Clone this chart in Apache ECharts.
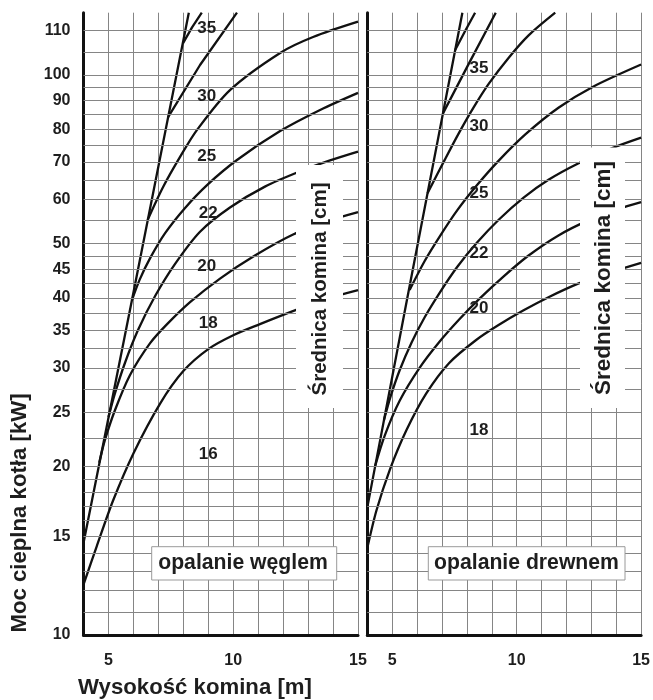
<!DOCTYPE html>
<html>
<head>
<meta charset="utf-8">
<script src="https://cdn.jsdelivr.net/npm/echarts@6/dist/echarts.min.js"></script>
<style>
html,body{margin:0;padding:0;background:#fff}
#chart{width:653px;height:700px}
</style>
</head>
<body>
<div id="chart"></div>
<script>
// ---------- axes / ticks ----------
const xTickLabels = [5, 10, 15];
const yGridValues = [11, 12, 13, 14, 15, 16, 17, 18, 19, 20, 22.5, 25, 27.5, 30, 32.5, 35, 37.5, 40, 42.5, 45, 47.5, 50,
  55, 60, 65, 70, 75, 80, 85, 90, 95, 100, 110, 120];
const yTickValues = [10, 15, 20, 25, 30, 35, 40, 45, 50, 60, 70, 80, 90, 100, 120];
const yTickLabels = ['10', '15', '20', '25', '30', '35', '40', '45', '50', '60', '70', '80', '90', '100', '110'];

// ---------- coal panel (opalanie węglem): [height m, power kW] ----------
const coalLimit = [[4.0, 14.6], [5.94, 39.6], [8.22, 129.2]];
const coal35 = [[7.99, 114.0], [8.35, 121.6], [8.74, 129.2]];
const coal30 = [[7.39, 84.1], [8.67, 104.2], [10.15, 129.2]];
const coal25 = [[6.57, 55.1], [7.19, 63.1], [7.87, 71.4], [8.55, 79.8], [9.87, 94.0], [11.88, 109.5], [13.2, 116.9], [15, 124.5]];
const coal22 = [[5.94, 39.6], [6.26, 43.2], [6.67, 47.1], [7.27, 52.2], [8.07, 57.9], [8.95, 63.6], [10.15, 70.5], [11.88, 79.4], [13.48, 86.6], [15, 92.9]];
const coal20 = [[5.0, 24.5], [5.26, 27.0], [5.66, 30.6], [6.18, 35.0], [6.87, 40.3], [7.67, 46.0], [8.67, 52.5], [9.87, 58.0], [11.27, 63.2], [12.68, 67.3], [13.88, 70.4], [15, 73.0]];
const coal18 = [[4.63, 20.3], [4.86, 22.3], [5.26, 25.2], [5.86, 29.1], [6.67, 33.2], [7.35, 35.9], [8.27, 39.3], [9.47, 43.3], [10.87, 47.6], [12.4, 51.9], [13.88, 55.0], [15, 56.9]];
const coal16 = [[4.0, 12.3], [4.53, 14.4], [5.19, 17.4], [6.0, 21.1], [7.07, 25.9], [8.0, 29.6], [9.0, 32.4], [10.0, 34.3], [11.07, 35.9], [12.55, 38.1], [13.88, 40.0], [15, 41.3]];
const coalLabelText = ['35', '30', '25', '22', '20', '18', '16'];
const coalLabelX = [8.94, 8.94, 8.94, 9.0, 8.94, 9.0, 9.0];
const coalLabelY = [121.2, 91.5, 71.5, 56.6, 45.5, 36.0, 21.0];

// ---------- wood panel (opalanie drewnem) ----------
const woodLimit = [[4.0, 16.9], [5.59, 39.6], [7.82, 129.2]];
const wood40 = [[7.53, 110.8], [7.93, 119.8], [8.33, 129.2]];
const wood35 = [[7.04, 85.4], [8.09, 105.0], [9.16, 129.2]];
const wood30 = [[6.42, 61.5], [7.10, 70.4], [7.69, 78.9], [8.29, 87.8], [8.89, 96.6], [9.69, 107.5], [10.48, 117.7], [11.55, 129.2]];
const wood25 = [[5.70, 41.3], [6.30, 46.5], [6.90, 51.4], [7.61, 57.3], [8.41, 63.6], [9.29, 70.4], [10.36, 78.4], [11.68, 87.4], [13.07, 95.3], [15, 104.4]];
const wood22 = [[4.67, 24.2], [4.94, 26.7], [5.30, 29.7], [5.78, 33.3], [6.30, 36.9], [6.90, 40.8], [7.61, 45.4], [8.41, 50.2], [9.29, 55.2], [10.28, 60.4], [11.28, 65.0], [12.47, 69.5], [13.79, 73.9], [15, 77.3]];
const wood20 = [[4.31, 20.0], [4.70, 22.7], [5.30, 26.2], [6.10, 30.0], [6.90, 33.4], [7.69, 36.6], [8.49, 39.8], [9.48, 43.7], [10.48, 47.6], [11.68, 51.7], [12.88, 55.0], [14.07, 57.6], [15, 59.3]];
const wood18 = [[4.0, 14.3], [4.37, 16.7], [4.90, 19.7], [5.57, 23.2], [6.37, 27.0], [7.29, 30.6], [8.36, 33.6], [9.29, 35.8], [10.28, 38.0], [11.28, 40.1], [12.47, 42.4], [13.67, 44.3], [15, 46.2]];
const woodLabelText = ['35', '30', '25', '22', '20', '18'];
const woodLabelX = [8.49, 8.49, 8.49, 8.49, 8.49, 8.49];
const woodLabelY = [102.8, 80.9, 61.5, 48.0, 38.3, 23.2];

// ---------- texts ----------
const yTitle = 'Moc cieplna kotła [kW]';
const xTitle = 'Wysokość komina [m]';
const diamTitle = 'Średnica komina [cm]';
const coalTitle = 'opalanie węglem';
const woodTitle = 'opalanie drewnem';

const FONT = '"Liberation Sans", Arial, sans-serif';
const INK = '#1e1e1e';

function curve(data, g, name, smooth) {
  return {
    type: 'line', name: name, xAxisIndex: g, yAxisIndex: g, data: data,
    symbol: 'none', showSymbol: false, smooth: smooth ? 0.3 : false,
    lineStyle: { color: '#111', width: 2.3 }, z: 3, silent: true,
    emphasis: { disabled: true }
  };
}
function gridLines(g) {
  return {
    type: 'line', xAxisIndex: g, yAxisIndex: g, data: [], symbol: 'none', z: 1, silent: true,
    markLine: {
      silent: true, symbol: ['none', 'none'], animation: false,
      label: { show: false },
      lineStyle: { color: '#858585', width: 1, type: 'solid' },
      emphasis: { disabled: true },
      data: yGridValues.map(v => ({ yAxis: v }))
    }
  };
}

const grids = [
  { left: 83.5, top: 12.7, width: 274.5, height: 622.3 },
  { left: 367.3, top: 12.7, width: 276, height: 622.3 }
];
function xAx(g) {
  return {
    type: 'value', gridIndex: g, min: 4, max: 15, interval: 1,
    axisLine: { show: true, onZero: false, lineStyle: { color: '#111', width: 3 } },
    axisTick: { show: false },
    splitLine: { show: true, lineStyle: { color: '#858585', width: 1 } },
    axisLabel: { show: true, margin: 18, fontSize: 16, fontWeight: 'bold', fontFamily: FONT, color: INK,
      showMinLabel: true, showMaxLabel: true,
      formatter: v => (xTickLabels.indexOf(v) >= 0 ? String(v) : '') }
  };
}
function yAx(g) {
  return {
    type: 'log', logBase: 10, gridIndex: g, min: 10, max: 129.2,
    axisLine: { show: true, onZero: false, lineStyle: { color: '#111', width: 3 } },
    axisTick: { show: false }, axisLabel: { show: false },
    splitLine: { show: false }, minorSplitLine: { show: false }
  };
}

const series = [
  gridLines(0), gridLines(1),
  curve(coalLimit, 0, 'limit', false),
  curve(coal35, 0, '35', false),
  curve(coal30, 0, '30', false),
  curve(coal25, 0, '25', true),
  curve(coal22, 0, '22', true),
  curve(coal20, 0, '20', true),
  curve(coal18, 0, '18', true),
  curve(coal16, 0, '16', true),
  curve(woodLimit, 1, 'limit', false),
  curve(wood40, 1, '40', false),
  curve(wood35, 1, '35', false),
  curve(wood30, 1, '30', true),
  curve(wood25, 1, '25', true),
  curve(wood22, 1, '22', true),
  curve(wood20, 1, '20', true),
  curve(wood18, 1, '18', true)
];

const txt = (t, x, y, size, extra) => Object.assign({
  type: 'text', x: x, y: y, z: 21, silent: true,
  style: { text: t, fontSize: size, fontWeight: 'bold', fontFamily: FONT, fill: INK, align: 'center', verticalAlign: 'middle' }
}, extra || {});

const chart = echarts.init(document.getElementById('chart'), null, { renderer: 'canvas' });
chart.setOption({
  animation: false,
  backgroundColor: '#fff',
  grid: grids,
  xAxis: [xAx(0), xAx(1)],
  yAxis: [yAx(0), yAx(1)],
  series: series
});

// positions of annotation texts computed through the chart's own scales
const graphic = [];
yTickValues.forEach((v, i) => {
  const p = chart.convertToPixel({ xAxisIndex: 0, yAxisIndex: 0 }, [4, v]);
  const t = txt(yTickLabels[i], p[0] - 13, p[1], 16);
  t.style.align = 'right';
  graphic.push(t);
});
coalLabelText.forEach((s, i) => {
  const p = chart.convertToPixel({ xAxisIndex: 0, yAxisIndex: 0 }, [coalLabelX[i], coalLabelY[i]]);
  graphic.push(txt(s, p[0], p[1], 17));
});
woodLabelText.forEach((s, i) => {
  const p = chart.convertToPixel({ xAxisIndex: 1, yAxisIndex: 1 }, [woodLabelX[i], woodLabelY[i]]);
  graphic.push(txt(s, p[0], p[1], 17));
});
graphic.push(
  { type: 'rect', z: 20, silent: true, shape: { x: 296, y: 165, width: 47, height: 243 }, style: { fill: '#fff' } },
  txt(diamTitle, 320, 289, 20.5, { rotation: Math.PI / 2 }),
  { type: 'rect', z: 20, silent: true, shape: { x: 580, y: 147.5, width: 45, height: 260.5 }, style: { fill: '#fff' } },
  txt(diamTitle, 604, 278, 22.5, { rotation: Math.PI / 2 }),
  { type: 'rect', z: 20, silent: true, shape: { x: 151.7, y: 546.7, width: 185, height: 33.3 }, style: { fill: '#fff', stroke: '#9a9a9a', lineWidth: 1 } },
  txt(coalTitle, 243, 563.5, 21.2),
  { type: 'rect', z: 20, silent: true, shape: { x: 428.3, y: 546.7, width: 196.7, height: 33.3 }, style: { fill: '#fff', stroke: '#9a9a9a', lineWidth: 1 } },
  txt(woodTitle, 526.5, 563.5, 21.2),
  txt(yTitle, 20, 513, 22.2, { rotation: Math.PI / 2 }),
  txt(xTitle, 195, 688, 22.2)
);
chart.setOption({ graphic: graphic });
</script>
</body>
</html>
